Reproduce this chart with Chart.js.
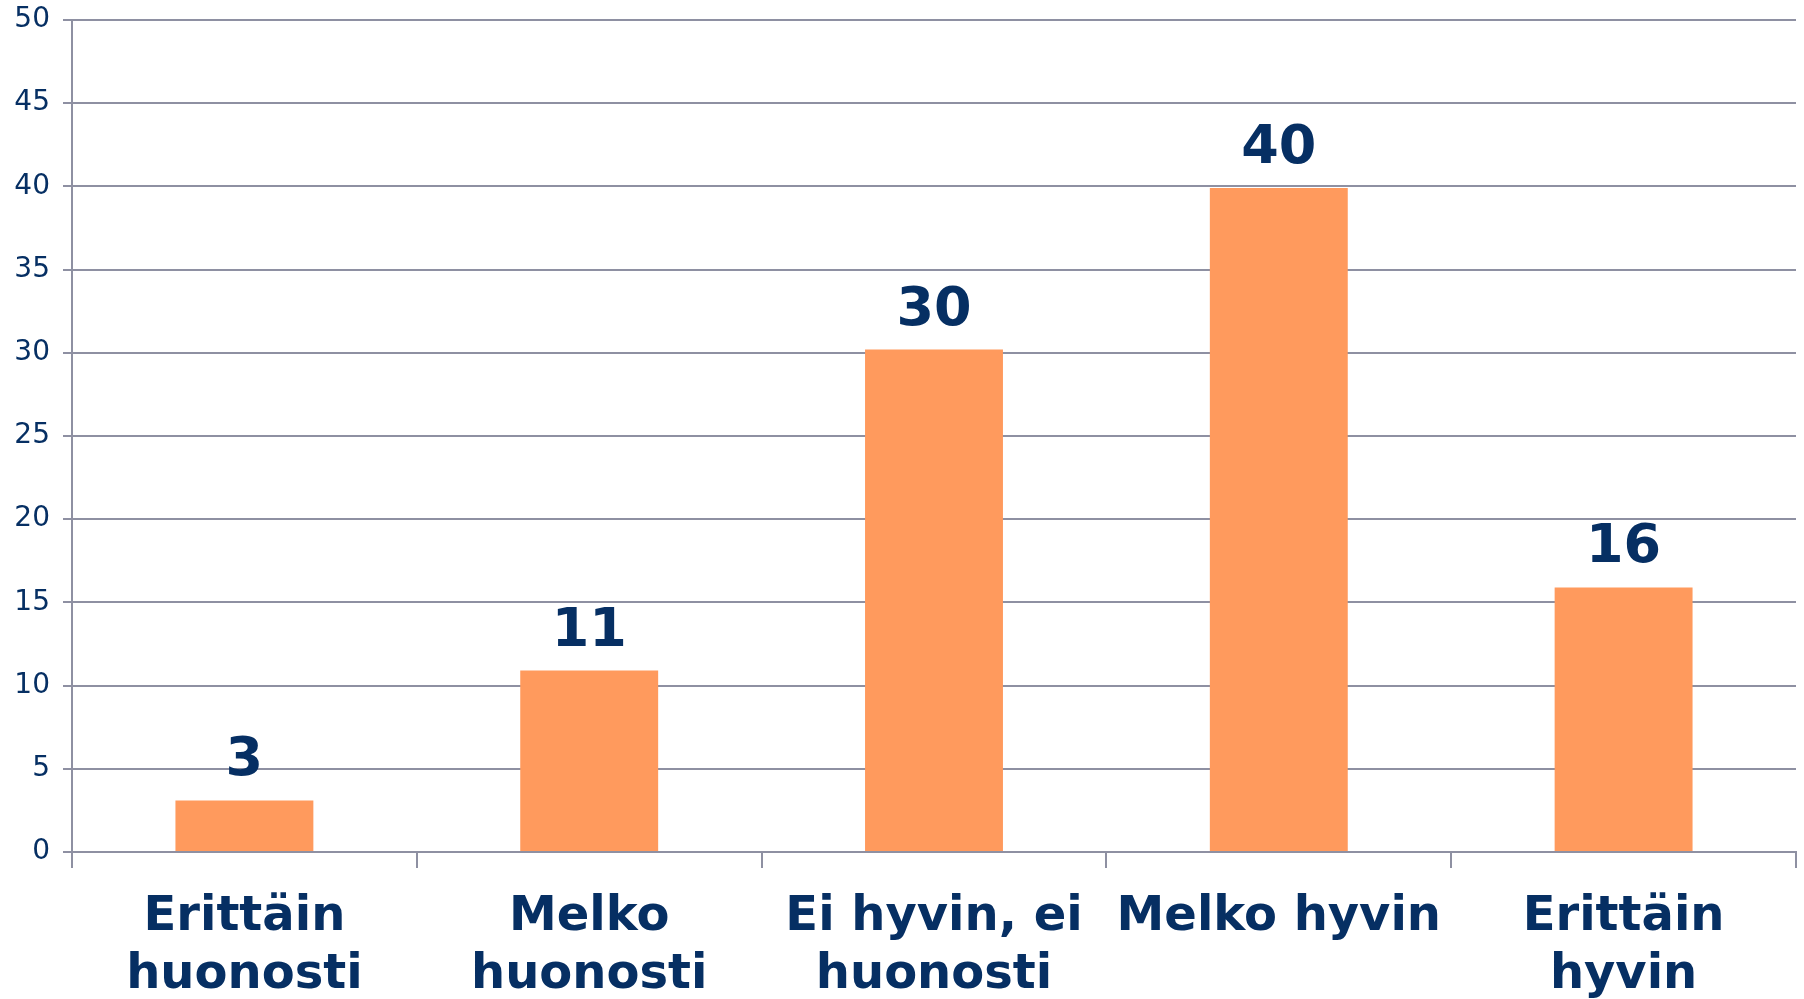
<!DOCTYPE html>
<html>
<head>
<meta charset="utf-8">
<script src="https://cdn.jsdelivr.net/npm/chart.js@4.4.1/dist/chart.umd.min.js"></script>
<style>
    html, body { margin: 0; padding: 0; background: #ffffff; }
    #wrap { width: 1804px; height: 999px; }
</style>
</head>
<body>
<div id="wrap"><canvas id="chart" width="1804" height="999"></canvas></div>
<script>
// Chart data
const categories = [
    ['Erittäin', 'huonosti'],
    ['Melko', 'huonosti'],
    ['Ei hyvin, ei', 'huonosti'],
    'Melko hyvin',
    ['Erittäin', 'hyvin']
];
const values = [3.1, 10.9, 30.2, 39.9, 15.9];
const yTicks = [0, 5, 10, 15, 20, 25, 30, 35, 40, 45, 50];

const navy = '#062F63';
const gridColor = '#8E90A2';

// Draws the rounded value above each bar
const valueLabels = {
    id: 'valueLabels',
    afterDatasetsDraw(chart) {
        const ctx = chart.ctx;
        const meta = chart.getDatasetMeta(0);
        ctx.save();
        ctx.font = 'bold 54px "DejaVu Sans", Verdana, sans-serif';
        ctx.fillStyle = navy;
        ctx.textAlign = 'center';
        ctx.textBaseline = 'bottom';
        meta.data.forEach((bar, i) => {
            ctx.fillText(String(Math.round(values[i])), bar.x, bar.y - 12);
        });
        ctx.restore();
    }
};

new Chart(document.getElementById('chart'), {
    type: 'bar',
    data: {
        labels: categories,
        datasets: [{
            data: values,
            backgroundColor: '#FF9A5D',
            borderWidth: 0,
            barPercentage: 0.4,
            categoryPercentage: 1.0
        }]
    },
    options: {
        responsive: false,
        animation: false,
        layout: { padding: { top: 20, right: 8, left: 0, bottom: 0 } },
        plugins: {
            legend: { display: false },
            tooltip: { enabled: false }
        },
        scales: {
            x: {
                offset: true,
                grid: {
                    offset: true,
                    drawOnChartArea: false,
                    color: gridColor,
                    lineWidth: 2,
                    tickLength: 16
                },
                border: { color: gridColor, width: 2 },
                ticks: {
                    color: navy,
                    font: { family: '"DejaVu Sans", Verdana, sans-serif', size: 48, weight: 'bold', lineHeight: 1.22 },
                    padding: 20,
                    maxRotation: 0,
                    autoSkip: false
                },
                afterFit(scale) {
                    scale.height = 147;
                    scale.paddingLeft = 0;
                    scale.paddingRight = 0;
                }
            },
            y: {
                min: 0,
                max: 50,
                afterBuildTicks(scale) {
                    scale.ticks = yTicks.map(v => ({ value: v }));
                },
                grid: {
                    color: gridColor,
                    lineWidth: 2,
                    tickLength: 9
                },
                border: { color: gridColor, width: 2 },
                ticks: {
                    color: navy,
                    font: { family: '"DejaVu Sans", Verdana, sans-serif', size: 28 },
                    padding: 13
                },
                afterFit(scale) {
                    scale.width = 72;
                    scale.paddingTop = 0;
                    scale.paddingBottom = 0;
                }
            }
        }
    },
    plugins: [valueLabels]
});
</script>
</body>
</html>
